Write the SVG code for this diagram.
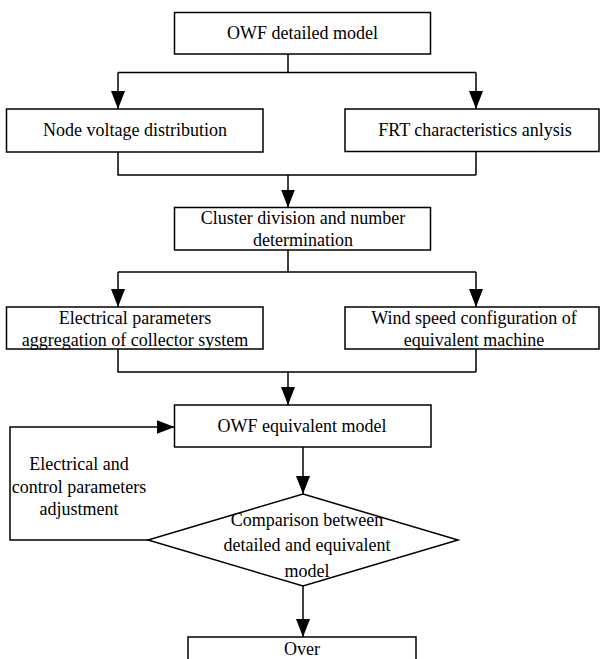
<svg xmlns="http://www.w3.org/2000/svg" width="601" height="659" viewBox="0 0 601 659">
<defs>
<style>
.box{fill:#fff;stroke:#000;stroke-width:1.5}
.ln{fill:none;stroke:#000;stroke-width:1.5}
text{font-family:"Liberation Serif","Times New Roman",serif;font-size:18px;fill:#000;text-anchor:middle}
</style>
<marker id="ah" markerWidth="18" markerHeight="14" refX="18" refY="7" orient="auto" markerUnits="userSpaceOnUse">
<path d="M0,0 L18,7 L0,14 Z" fill="#000"/>
</marker>
</defs>
<rect width="601" height="659" fill="#fff"/>
<g id="connectors">
<path class="ln" d="M288,54 V72.5 M118,72.5 H476"/>
<path class="ln" d="M118,72.5 V109" marker-end="url(#ah)"/>
<path class="ln" d="M476,72.5 V109" marker-end="url(#ah)"/>
<path class="ln" d="M118,152 V175 H476 M476,151 V175"/>
<path class="ln" d="M288,175 V207.5" marker-end="url(#ah)"/>
<path class="ln" d="M288,250 V272 M118,272 H476"/>
<path class="ln" d="M118,272 V307" marker-end="url(#ah)"/>
<path class="ln" d="M476,272 V307" marker-end="url(#ah)"/>
<path class="ln" d="M118,349 V372 H476 M476,349 V372"/>
<path class="ln" d="M288,372 V405" marker-end="url(#ah)"/>
<path class="ln" d="M303,447 V494" marker-end="url(#ah)"/>
<path class="ln" d="M148,540 H10 V427 H174.5" marker-end="url(#ah)"/>
<path class="ln" d="M303,586 V637" marker-end="url(#ah)"/>
</g>
<g id="n_owf_detailed">
<rect class="box" x="174.5" y="12.5" width="256" height="41.5"/>
<text x="302.5" y="39">OWF detailed model</text>
</g>
<g id="n_node_voltage">
<rect class="box" x="6.5" y="109" width="256.5" height="43"/>
<text x="135" y="136">Node voltage distribution</text>
</g>
<g id="n_frt">
<rect class="box" x="345" y="109" width="254" height="42.5"/>
<text x="475" y="136">FRT characteristics anlysis</text>
</g>
<g id="n_cluster">
<rect class="box" x="174.5" y="207.5" width="256" height="42.5"/>
<text x="303" y="224">Cluster division and number</text>
<text x="303" y="246">determination</text>
</g>
<g id="n_electrical">
<rect class="box" x="6.5" y="307" width="256.5" height="42"/>
<text x="135" y="324">Electrical parameters</text>
<text x="135" y="346">aggregation of collector system</text>
</g>
<g id="n_wind">
<rect class="box" x="345" y="307" width="254" height="42"/>
<text x="474" y="324">Wind speed configuration of</text>
<text x="474" y="346">equivalent machine</text>
</g>
<g id="n_owf_equivalent">
<rect class="box" x="174.5" y="405" width="256.5" height="42"/>
<text x="302" y="432">OWF equivalent model</text>
</g>
<g id="n_adjust_label">
<text x="79" y="470">Electrical and</text>
<text x="79" y="493">control parameters</text>
<text x="79" y="515">adjustment</text>
</g>
<g id="n_comparison">
<path class="box" d="M303,494 L458,540 L303,586 L148,540 Z"/>
<text x="307" y="526">Comparison between</text>
<text x="307" y="551">detailed and equivalent</text>
<text x="307" y="577">model</text>
</g>
<g id="n_over">
<rect class="box" x="188" y="637" width="228" height="44"/>
<text x="302" y="655">Over</text>
</g>
</svg>
